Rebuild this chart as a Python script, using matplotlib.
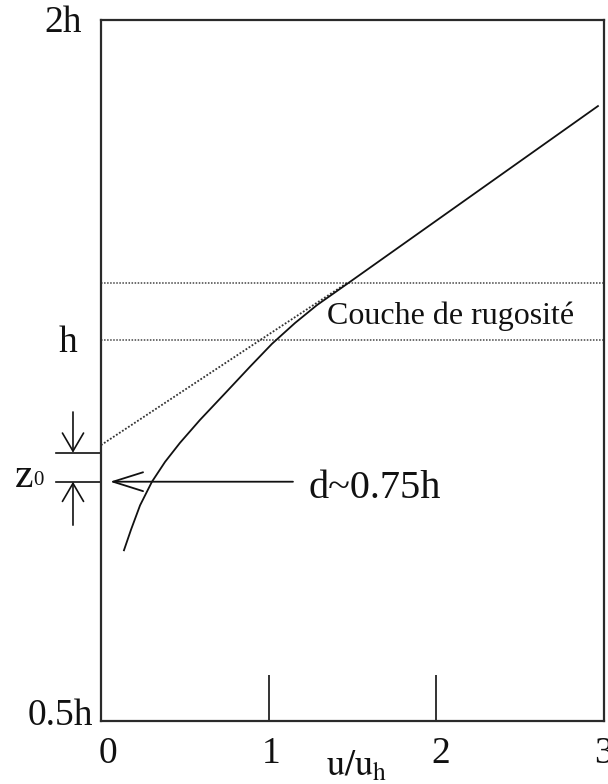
import numpy as np
import matplotlib
matplotlib.use("Agg")
import matplotlib.pyplot as plt
from matplotlib.patches import ArrowStyle
from matplotlib.transforms import ScaledTranslation

plt.rcParams["font.family"] = ["Liberation Serif", "DejaVu Serif"]
plt.rcParams["mathtext.fontset"] = "stix"

# Mean wind profile u/u_h against height z/h (schematic)
profile_u = [0.137, 0.179, 0.233, 0.304, 0.382, 0.471, 0.590, 0.740,
             0.889, 1.020, 1.157, 1.288, 1.467, 2.964]
profile_z = [0.724, 0.751, 0.783, 0.814, 0.840, 0.865, 0.895, 0.930,
             0.965, 0.995, 1.053, 1.109, 1.175, 1.731]

# Logarithmic law extrapolated down to z = d + z0
log_u = [0.0, 0.95, 1.467]
log_z = [0.862, 1.000, 1.178]

# Roughness sublayer limits
roughness_bounds = [1.0, 1.178]
# z0 markers and displacement height
z0_bounds = [0.814, 0.852]
d_level = 0.814

x_ticks = [0, 1, 2, 3]
x_tick_labels = ["0", "1", "2", "3"]
y_tick_values = [0.5, 1.0, 2.0]
y_tick_labels = ["0.5h", "h", "2h"]

# Stretched vertical axis: 0.5h..h takes more room than h..2h
z_knots = [0.5, 1.0, 2.0]
pos_knots = [0.0, 0.5435, 1.0]


def z_fwd(z):
    return np.interp(z, z_knots, pos_knots)


def z_inv(p):
    return np.interp(p, pos_knots, z_knots)


ink = "#111111"

fig = plt.figure(figsize=(6.08, 7.84), dpi=100)
ax = fig.add_axes([0.1661, 0.0804, 0.8273, 0.8941])
ax.set_yscale("function", functions=(z_fwd, z_inv))
ax.set_xlim(0, 3)
ax.set_ylim(0.5, 2.0)

for s in ax.spines.values():
    s.set_linewidth(1.6)
    s.set_color("#2a2a2a")

# roughness sublayer bounds
for zb in roughness_bounds:
    ax.axhline(zb, color="#444444", lw=1.1, linestyle=(0, (1, 1)))

# log-law extrapolation (dotted) and actual profile (solid)
ax.plot(log_u, log_z, color="#333333", lw=1.3, linestyle=(0, (1, 1)))
ax.plot(profile_u, profile_z, color=ink, lw=1.3)

# x axis ticks and labels
ax.set_xticks(x_ticks)
ax.set_xticklabels(x_tick_labels)
ax.tick_params(axis="x", direction="in", length=33, width=1.2, pad=11,
               labelsize=27, colors=ink)
label_shift_px = [7, 2, 4, 0]
for lab, dx in zip(ax.get_xticklabels(), label_shift_px):
    lab.set_transform(lab.get_transform()
                      + ScaledTranslation(dx / 100, 0, fig.dpi_scale_trans))
ax.set_yticks([])
ax.minorticks_off()

# y labels
y_offsets = [(-6, 4), (-17, -2), (-14, -2)]
for zv, lab, off in zip(y_tick_values, y_tick_labels, y_offsets):
    ax.annotate(lab, xy=(0, zv), xytext=off, textcoords="offset points",
                ha="right", va="center", fontsize=27, color=ink,
                annotation_clip=False)

fig.text(357 / 608, 1 - 767 / 784, r"$\mathrm{u/u_h}$", ha="center",
         va="center", fontsize=26, color=ink)

ax.text(2.087, 1.05, "Couche de rugosité", ha="center", va="baseline",
        fontsize=23, color=ink)

# z0 thickness markers
for zb in z0_bounds:
    ax.plot([-0.268, 0.0], [zb, zb], color=ink, lw=1.2, clip_on=False)

small_head = ArrowStyle("->", head_length=0.65, head_width=0.38)
ax.annotate("", xy=(-0.167, z0_bounds[1]), xytext=(-0.167, 0.9055),
            arrowprops=dict(arrowstyle=small_head, mutation_scale=20, lw=1.2,
                            color=ink, shrinkA=0, shrinkB=0),
            annotation_clip=False)
ax.annotate("", xy=(-0.167, z0_bounds[0]), xytext=(-0.167, 0.757),
            arrowprops=dict(arrowstyle=small_head, mutation_scale=20, lw=1.2,
                            color=ink, shrinkA=0, shrinkB=0),
            annotation_clip=False)
ax.text(-0.513, 0.8075, "z", ha="left", va="baseline", fontsize=30,
        color=ink, clip_on=False)
ax.text(-0.406, 0.810, "0", ha="left", va="baseline", fontsize=15,
        color=ink, clip_on=False)

# displacement height arrow
big_head = ArrowStyle("->", head_length=1.08, head_width=0.34)
ax.annotate("", xy=(0.054, d_level), xytext=(1.145, d_level),
            arrowprops=dict(arrowstyle=big_head, mutation_scale=20, lw=1.3,
                            color=ink, shrinkA=0, shrinkB=0))
ax.text(1.235, 0.7927, "d~0.75h", ha="left", va="baseline", fontsize=29,
        color=ink)

fig.savefig("out.png", dpi=100)
